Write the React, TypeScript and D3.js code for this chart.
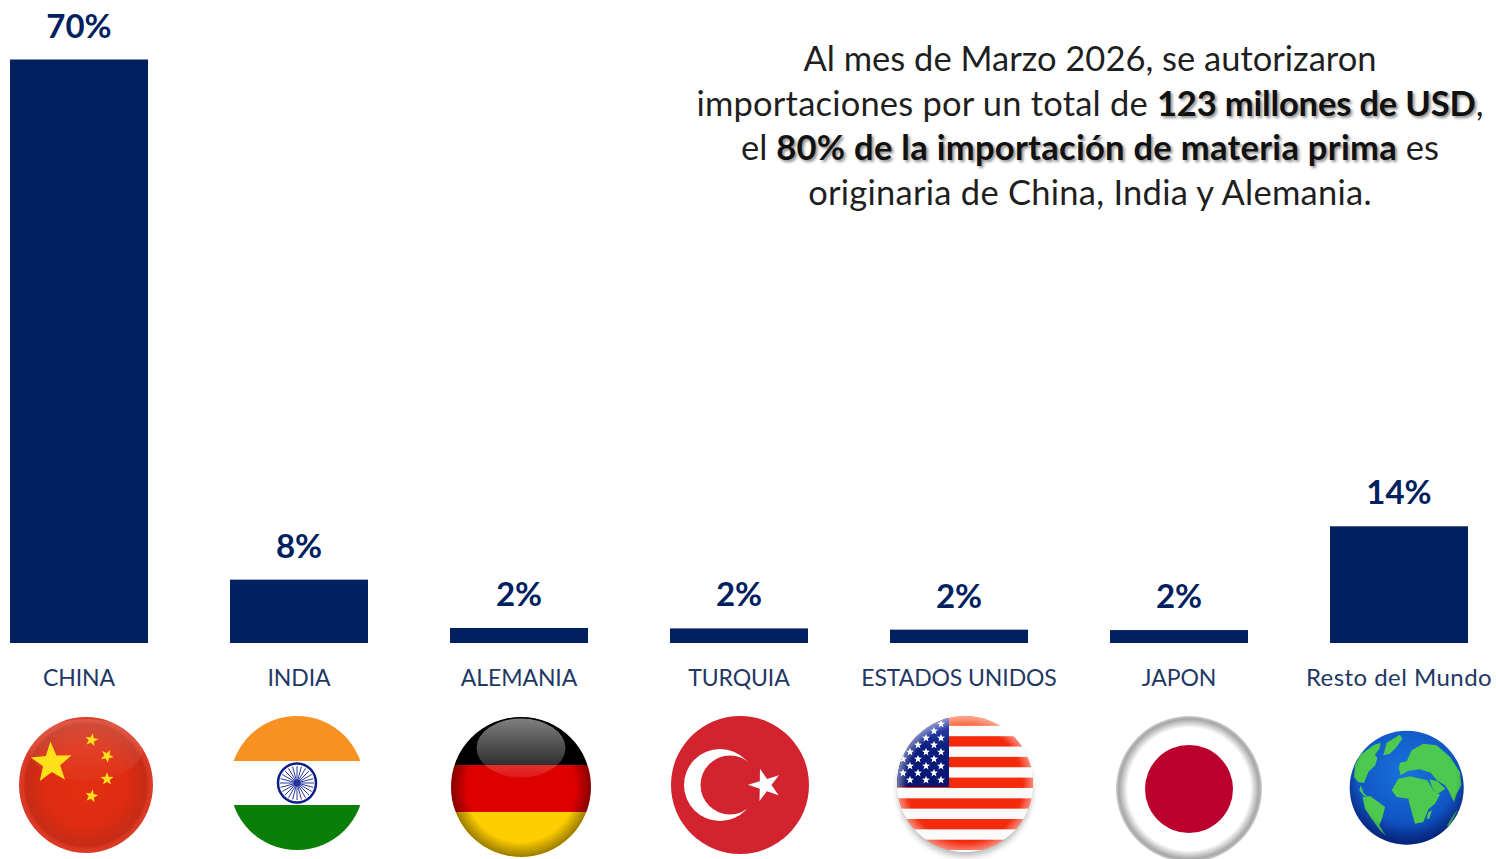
import React from "react";
import * as d3 from "d3";

const categories = ["CHINA", "INDIA", "ALEMANIA", "TURQUIA", "ESTADOS UNIDOS", "JAPON", "Resto del Mundo"];
const values = [70, 7.6, 1.8, 1.75, 1.6, 1.55, 14];
const valueLabels = ["70%", "8%", "2%", "2%", "2%", "2%", "14%"];

const NAVY = "#002060";
const FONT = "Lato, 'Open Sans', sans-serif";

const x = d3.scaleBand<string>().domain(categories).range([10, 1468]).paddingInner(82 / 220).paddingOuter(0);
const y = d3.scaleLinear().domain([0, 70]).range([643, 59.5]);

function star(cx: number, cy: number, r: number, rot = 0, inner = 0.42) {
  const pts: [number, number][] = [];
  for (let i = 0; i < 10; i++) {
    const a = -Math.PI / 2 + rot + (i * Math.PI) / 5;
    const rr = i % 2 === 0 ? r : r * inner;
    pts.push([cx + rr * Math.cos(a), cy + rr * Math.sin(a)]);
  }
  return "M" + pts.map((p) => p.join(",")).join("L") + "Z";
}

function China() {
  return (
    <g>
      <ellipse cx={86} cy={785} rx={67} ry={68} fill="url(#cnG)" />
      <ellipse cx={86} cy={750} rx={56} ry={31} fill="url(#cnGloss)" />
      <path d={star(51.5, 763, 21.5, -0.05)} fill="#fde01a" />
      <path d={star(91.5, 740, 6.8, 0.2)} fill="#fde01a" />
      <path d={star(107, 756, 6.8, 0.5)} fill="#fde01a" />
      <path d={star(107, 779, 6.8, 0)} fill="#fde01a" />
      <path d={star(91.5, 796, 6.8, 0.2)} fill="#fde01a" />
    </g>
  );
}

function India() {
  const spokes = d3.range(24).map((i) => (i * Math.PI) / 12);
  return (
    <g>
      <clipPath id="inC"><ellipse cx={297} cy={783} rx={67} ry={67} /></clipPath>
      <g clipPath="url(#inC)">
        <rect x={225} y={716} width={145} height={45} fill="#f79122" />
        <rect x={225} y={805} width={145} height={46} fill="#0a7f07" />
      </g>
      <ellipse cx={297} cy={783} rx={19} ry={19.5} fill="#fff" stroke="#0a1f8c" strokeWidth={2.5} />
      {spokes.map((a, i) => (
        <line key={i} x1={297} y1={783} x2={297 + 17 * Math.cos(a)} y2={783 + 17 * Math.sin(a)} stroke="#2a3aa0" strokeWidth={1} />
      ))}
      <circle cx={297} cy={783} r={3.5} fill="#24349a" />
    </g>
  );
}

function Germany() {
  return (
    <g>
      <clipPath id="deC"><ellipse cx={521} cy={787} rx={70} ry={70} /></clipPath>
      <g clipPath="url(#deC)">
        <rect x={450} y={716} width={142} height={49} fill="#000" />
        <rect x={450} y={765} width={142} height={47} fill="#dd0000" />
        <rect x={450} y={812} width={142} height={46} fill="#ffce00" />
        <ellipse cx={521} cy={787} rx={70} ry={70} fill="url(#edgeG)" />
      </g>
      <ellipse cx={521} cy={748} rx={44.5} ry={29.5} fill="url(#glossG)" />
    </g>
  );
}

function Turkey() {
  return (
    <g>
      <ellipse cx={740} cy={785} rx={69} ry={69} fill="#d2232f" />
      <circle cx={720} cy={785} r={36} fill="#fff" />
      <circle cx={730} cy={785} r={29.5} fill="#d2232f" />
      <path d={star(765, 785, 17, -0.3, 0.38)} fill="#fff" />
    </g>
  );
}

function USA() {
  const h = 10.35;
  const stripes = d3.range(13);
  const rows = [[941], [934], [926, 941], [918, 934], [910, 926, 941], [903, 918, 934], [910, 926, 941], [903, 918, 934], [910, 926, 941]];
  return (
    <g>
      <clipPath id="usC"><ellipse cx={965} cy={784} rx={68} ry={68} /></clipPath>
      <ellipse cx={965} cy={789} rx={67} ry={67} fill="#000" opacity={0.28} filter="url(#blur4)" />
      <ellipse cx={965} cy={784} rx={68} ry={68} fill="#fafafa" />
      <g clipPath="url(#usC)">
        {stripes.map((i) => i % 2 === 0 ? <rect key={i} x={895} y={715.5 + i * h} width={140} height={h} fill={i === 0 ? "#fb6238" : "#f42a0c"} /> : null)}
        <rect x={895} y={714} width={54} height={73} fill="url(#usBlue)" />
        {rows.flatMap((r, ri) => r.map((sx) => <path key={ri + "-" + sx} d={star(sx, 724 + ri * 7, 4.2)} fill="#fff" />))}
        <ellipse cx={965} cy={784} rx={68} ry={68} fill="url(#edgeWG)" />
      </g>
    </g>
  );
}

function Japan() {
  return (
    <g>
      <ellipse cx={1189} cy={789} rx={73} ry={73} fill="url(#jpG)" />
      <ellipse cx={1189} cy={789} rx={44} ry={44} fill="#bc002d" />
    </g>
  );
}

const LAND = [
  "M60,100 L100,70 L122,62 L118,80 L105,98 L112,108 L106,130 L85,150 L72,183 L55,180 L42,165 L45,130Z",
  "M130,100 L140,62 L180,38 L187,50 L170,75 L150,95Z",
  "M62,190 L72,215 L82,222 L72,222 L58,205Z",
  "M68,225 L90,222 L115,240 L135,255 L128,285 L118,310 L138,342 L120,325 L95,290 L75,260Z",
  "M180,122 L200,118 L215,85 L250,65 L290,70 L330,105 L360,150 L364,190 L350,215 L342,240 L325,205 L315,190 L292,176 L272,152 L240,142 L205,146 L182,160 L176,138Z",
  "M175,170 L210,163 L262,175 L280,205 L300,218 L285,245 L265,262 L250,300 L225,305 L215,270 L205,230 L170,225 L155,205Z",
  "M268,172 L292,178 L316,200 L292,216 L278,200Z",
  "M264,272 L276,264 L268,290 L260,290Z",
  "M354,262 L330,310 L320,312 L340,280Z",
];

function Globe() {
  return (
    <g>
      <clipPath id="glC"><circle cx={1406.7} cy={787.7} r={57} /></clipPath>
      <circle cx={1406.7} cy={787.7} r={57} fill="url(#seaG)" />
      <g clipPath="url(#glC)">
        <g transform="translate(1340,722) scale(0.3333)" fill="#4cc94e">
          {LAND.map((d, i) => <path key={i} d={d} />)}
        </g>
      </g>
      <circle cx={1406.7} cy={787.7} r={57} fill="url(#globeShade)" />
    </g>
  );
}

const lines: { t: string; b?: boolean; ls?: number }[][] = [
  [{ t: "Al mes de Marzo 2026, se autorizaron" }],
  [{ t: "importaciones por un total de ", ls: 0.2 }, { t: "123 millones de USD", b: true, ls: -0.15 }, { t: "," }],
  [{ t: "el " }, { t: "80% de la importación de materia prima", b: true, ls: 0.29 }, { t: " es" }],
  [{ t: "originaria de China, India y Alemania.", ls: 0.26 }],
];

export default function App() {
  return (
    <svg width={1496} height={859} style={{ position: "absolute", left: 0, top: 0, background: "#fff" }} fontFamily={FONT}>
      <defs>
        <radialGradient id="cnG" cx="50%" cy="50%" r="50%">
          <stop offset="0%" stopColor="#e22f12" />
          <stop offset="60%" stopColor="#de2c11" />
          <stop offset="90%" stopColor="#c62c16" />
          <stop offset="94%" stopColor="#d83820" />
          <stop offset="100%" stopColor="#dd3b2a" />
        </radialGradient>
        <linearGradient id="cnGloss" x1="0" y1="0" x2="0" y2="1">
          <stop offset="0%" stopColor="#fff" stopOpacity={0.16} />
          <stop offset="100%" stopColor="#fff" stopOpacity={0.02} />
        </linearGradient>
        <radialGradient id="edgeG" cx="50%" cy="50%" r="50%">
          <stop offset="78%" stopColor="#000" stopOpacity={0} />
          <stop offset="100%" stopColor="#000" stopOpacity={0.4} />
        </radialGradient>
        <radialGradient id="edgeWG" cx="50%" cy="50%" r="50%">
          <stop offset="85%" stopColor="#fff" stopOpacity={0} />
          <stop offset="100%" stopColor="#fff" stopOpacity={0.45} />
        </radialGradient>
        <radialGradient id="jpG" cx="50%" cy="50%" r="50%">
          <stop offset="84%" stopColor="#fff" />
          <stop offset="96%" stopColor="#a6a6a6" />
          <stop offset="100%" stopColor="#d0d0d0" />
        </radialGradient>
        <linearGradient id="usBlue" x1="0" y1="0" x2="0" y2="1">
          <stop offset="0%" stopColor="#3d50c0" />
          <stop offset="45%" stopColor="#0b1f80" />
          <stop offset="100%" stopColor="#06146e" />
        </linearGradient>
        <linearGradient id="glossG" x1="0" y1="0" x2="0" y2="1">
          <stop offset="0%" stopColor="#fff" stopOpacity={0.5} />
          <stop offset="100%" stopColor="#fff" stopOpacity={0.1} />
        </linearGradient>
        <radialGradient id="seaG" cx="50%" cy="35%" r="68%">
          <stop offset="0%" stopColor="#1a72dc" />
          <stop offset="65%" stopColor="#1056c4" />
          <stop offset="100%" stopColor="#08207c" />
        </radialGradient>
        <radialGradient id="globeShade" cx="50%" cy="42%" r="60%">
          <stop offset="72%" stopColor="#001a60" stopOpacity={0} />
          <stop offset="100%" stopColor="#001a60" stopOpacity={0.4} />
        </radialGradient>
        <filter id="blur4" x="-20%" y="-20%" width="140%" height="140%"><feGaussianBlur stdDeviation="3" /></filter>
      </defs>

      {categories.map((c, i) => {
        const bx = x(c)!;
        const cx = bx + x.bandwidth() / 2;
        const top = y(values[i]);
        const upper = c === c.toUpperCase();
        return (
          <g key={c}>
            <rect x={bx} y={top} width={x.bandwidth()} height={y(0) - top} fill={NAVY} />
            <text x={cx} y={top - 22} textAnchor="middle" fontSize={33} fontWeight={700} fill={NAVY}>{valueLabels[i]}</text>
            <text x={cx} y={686} textAnchor="middle" fontSize={upper ? 23 : 24} letterSpacing={upper ? -0.1 : 0.45} fill="#1f3864">{c}</text>
          </g>
        );
      })}

      {lines.map((segs, i) => (
        <text key={i} x={1090} y={71 + i * 44.7} textAnchor="middle" fontSize={34.5} fill="#1f1f1f">
          {segs.map((s, j) => (
            <tspan key={j} fontWeight={s.b ? 700 : 400} letterSpacing={s.ls ?? 0} fill={s.b ? "#111" : undefined} style={s.b ? { textShadow: "2px 2px 3px rgba(0,0,0,0.45)" } : undefined}>{s.t}</tspan>
          ))}
        </text>
      ))}

      <China />
      <India />
      <Germany />
      <Turkey />
      <USA />
      <Japan />
      <Globe />
    </svg>
  );
}
